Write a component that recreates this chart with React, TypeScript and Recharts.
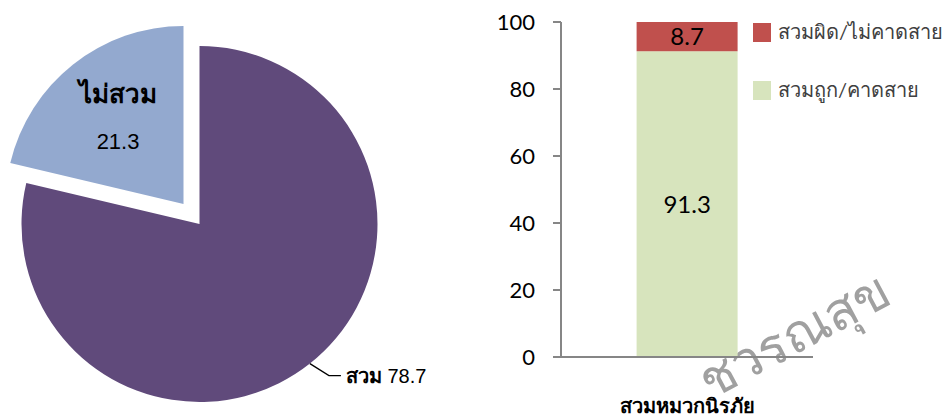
import React from "react";
import {
    PieChart, Pie, Cell, BarChart, Bar, XAxis, YAxis, LabelList, Customized
} from "recharts";

// pie: helmet use
const pieNames = ["สวม", "ไม่สวม"];
const pieValues = [78.7, 21.3];
const PIE_COLORS = ["#604A7B", "#93A9CF"];

// stacked bar: wearing correctly vs not
const barCategories = ["สวมหมวกนิรภัย"];
const correctValues = [91.3];
const wrongValues = [8.7];
const seriesNames = ["สวมถูก/คาดสาย", "สวมผิด/ไม่คาดสาย"];
const BAR_COLORS = ["#D7E4BD", "#C0504D"];
const yTicks = [0, 20, 40, 60, 80, 100];

const pieData = pieNames.map((name, i) => ({ name, value: pieValues[i] }));
const barData = barCategories.map((name, i) => ({
    name,
    correct: correctValues[i],
    wrong: wrongValues[i],
}));

const PIE_FONT = "'Liberation Sans', Arial, sans-serif";
const BAR_FONT = "Lato, 'Noto Sans', sans-serif";
const RAD = Math.PI / 180;

// label outside for the big slice
const mainLabel = (props: any) => {
    if (props.index !== 0) return null;
    const { cx, cy, midAngle, outerRadius } = props;
    const x0 = cx + outerRadius * Math.cos(-midAngle * RAD);
    const y0 = cy + outerRadius * Math.sin(-midAngle * RAD);
    const x1 = x0 + 19;
    const y1 = y0 + 12;
    const x2 = x1 + 12;
    return (
        <g>
            <polyline points={`${x0},${y0} ${x1},${y1} ${x2},${y1}`} fill="none" stroke="#000" strokeWidth={1.3} />
            <text x={x2 + 5} y={y1} dominantBaseline="central" fontSize={20} fontFamily={PIE_FONT} fill="#000">
                <tspan fontWeight="bold">{pieNames[0]}</tspan> {pieValues[0]}
            </text>
        </g>
    );
};

// label inside the exploded slice
const explodedLabel = (props: any) => {
    if (props.index !== 1) return null;
    const { cx, cy, midAngle, outerRadius } = props;
    const r = outerRadius * 0.62;
    const x = cx + r * Math.cos(-midAngle * RAD) + 3;
    const y = cy + r * Math.sin(-midAngle * RAD);
    return (
        <g fontFamily={PIE_FONT}>
            <text x={x} y={y - 23} textAnchor="middle" dominantBaseline="central" fontSize={26} fontWeight="bold" fill="#000">
                {pieNames[1]}
            </text>
            <text x={x} y={y + 24} textAnchor="middle" dominantBaseline="central" fontSize={22} fill="#000">
                {pieValues[1]}
            </text>
        </g>
    );
};

// small tick marks at both ends of the category axis
const EdgeTicks = (props: any) => {
    const off = props.offset;
    if (!off) return null;
    const y = off.top + off.height;
    return (
        <g stroke="#868686" strokeWidth={2}>
            <line x1={off.left} y1={y} x2={off.left} y2={y + 10} />
            <line x1={off.left + off.width} y1={y} x2={off.left + off.width} y2={y + 6} />
        </g>
    );
};

export default function App() {
    return (
        <div style={{ position: "absolute", left: 0, top: 0, width: 947, height: 416, background: "#fff", overflow: "hidden" }}>
            {/* Pie */}
            <div style={{ position: "absolute", left: 0, top: 0 }}>
                <PieChart width={440} height={416} margin={{ top: 0, right: 0, bottom: 0, left: 0 }}>
                    <Pie
                        data={pieData}
                        dataKey="value"
                        cx={199.5}
                        cy={224}
                        outerRadius={178}
                        startAngle={90}
                        endAngle={-270}
                        stroke="none"
                        label={mainLabel}
                        labelLine={false}
                        isAnimationActive={false}
                    >
                        {pieData.map((d, i) => (
                            <Cell key={d.name} fill={i === 0 ? PIE_COLORS[0] : "transparent"} />
                        ))}
                    </Pie>
                    <Pie
                        data={pieData}
                        dataKey="value"
                        cx={183.5}
                        cy={204}
                        outerRadius={178}
                        startAngle={90}
                        endAngle={-270}
                        stroke="none"
                        label={explodedLabel}
                        labelLine={false}
                        isAnimationActive={false}
                    >
                        {pieData.map((d, i) => (
                            <Cell key={d.name} fill={i === 1 ? PIE_COLORS[1] : "transparent"} />
                        ))}
                    </Pie>
                </PieChart>
            </div>

            {/* watermark */}
            <div
                style={{
                    position: "absolute",
                    left: 702,
                    top: 352,
                    fontSize: 52,
                    lineHeight: "60px",
                    fontWeight: 300,
                    color: "#a0a0a0",
                    fontFamily: "'Noto Sans', sans-serif",
                    transform: "rotate(-28deg)",
                    transformOrigin: "left center",
                    whiteSpace: "nowrap",
                    pointerEvents: "none",
                }}
            >
                ชวรณสุข
            </div>

            {/* Stacked bar */}
            <div style={{ position: "absolute", left: 450, top: 0 }}>
                <BarChart
                    width={497}
                    height={416}
                    data={barData}
                    margin={{ top: 22, right: 134, bottom: 0, left: 51 }}
                    barCategoryGap="30%"
                >
                    <XAxis
                        dataKey="name"
                        tickLine={false}
                        axisLine={{ stroke: "#868686", strokeWidth: 2 }}
                        tickMargin={36}
                        height={59}
                        tick={{ fontSize: 20, fontWeight: "bold", fill: "#000", fontFamily: BAR_FONT }}
                    />
                    <YAxis
                        domain={[0, 100]}
                        ticks={yTicks}
                        width={60}
                        tickSize={8}
                        tickMargin={18}
                        axisLine={{ stroke: "#868686", strokeWidth: 2 }}
                        tickLine={{ stroke: "#868686", strokeWidth: 2 }}
                        tick={{ fontSize: 22, fill: "#000", fontFamily: BAR_FONT }}
                    />
                    <Bar dataKey="correct" name={seriesNames[0]} stackId="a" fill={BAR_COLORS[0]} isAnimationActive={false}>
                        <LabelList dataKey="correct" position="center" fill="#000" fontSize={24} fontFamily={BAR_FONT} />
                    </Bar>
                    <Bar dataKey="wrong" name={seriesNames[1]} stackId="a" fill={BAR_COLORS[1]} isAnimationActive={false}>
                        <LabelList dataKey="wrong" position="center" fill="#000" fontSize={24} fontFamily={BAR_FONT} />
                    </Bar>
                    <Customized component={EdgeTicks} />
                </BarChart>
            </div>

            {/* Legend */}
            <div style={{ position: "absolute", left: 753, top: 3, fontFamily: BAR_FONT, fontSize: 20, color: "#404040", whiteSpace: "nowrap" }}>
                {[1, 0].map((i) => (
                    <div key={i} style={{ display: "flex", alignItems: "center", height: 58 }}>
                        <div style={{ width: 18, height: 19, background: BAR_COLORS[i], marginRight: 7, flexShrink: 0 }} />
                        <span>{seriesNames[i]}</span>
                    </div>
                ))}
            </div>
        </div>
    );
}
